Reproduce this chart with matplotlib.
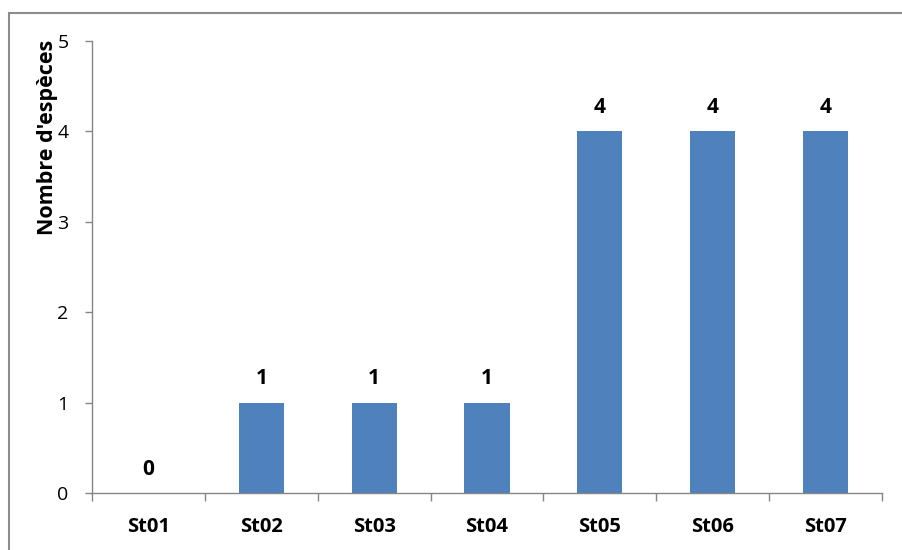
import matplotlib.pyplot as plt
from matplotlib.patches import Rectangle

stations = ['St01', 'St02', 'St03', 'St04', 'St05', 'St06', 'St07']
nb_especes = [0, 1, 1, 1, 4, 4, 4]

plt.rcParams['font.family'] = ['Open Sans', 'DejaVu Sans']

W, H = 903, 550
fig = plt.figure(figsize=(W / 100, H / 100), dpi=100)
ax = fig.add_axes([92 / W, (H - 493) / H, (882 - 92) / W, (493 - 41) / H])

# cadre autour du graphique
fig.patches.append(Rectangle((9 / W, -0.05), 1.0, (H - 13) / H + 0.05,
                             transform=fig.transFigure, fill=False,
                             edgecolor='#8c8c8c', lw=1.5))

x = range(len(stations))
ax.bar(x, nb_especes, width=0.4, color='#4f81bd')

for xi, v in zip(x, nb_especes):
    ax.annotate(str(v), (xi, v), xytext=(0, 17), textcoords='offset points',
                ha='center', va='center', fontsize=15, fontweight='bold')

ax.set_xlim(-0.5, len(stations) - 0.5)
ax.set_ylim(0, 5)
ax.set_yticks(range(6))
ax.tick_params(axis='y', labelsize=14, length=5, width=1, color='#868686', pad=12)

ax.set_xticks(list(x))
ax.set_xticklabels(stations, fontsize=14.5, fontweight='bold')
ax.set_xticks([i - 0.5 for i in range(len(stations) + 1)], minor=True)
ax.tick_params(axis='x', which='major', length=0, pad=17)
ax.tick_params(axis='x', which='minor', length=6, width=1, color='#868686')

for s in ['top', 'right']:
    ax.spines[s].set_visible(False)
for s in ['left', 'bottom']:
    ax.spines[s].set_color('#868686')
    ax.spines[s].set_linewidth(1)

fig.text(48 / W, (H - 40) / H, "Nombre d'espèces", rotation=90, ha='center',
         va='top', fontsize=15.5, fontweight='bold')

fig.savefig('out.png', dpi=100)
